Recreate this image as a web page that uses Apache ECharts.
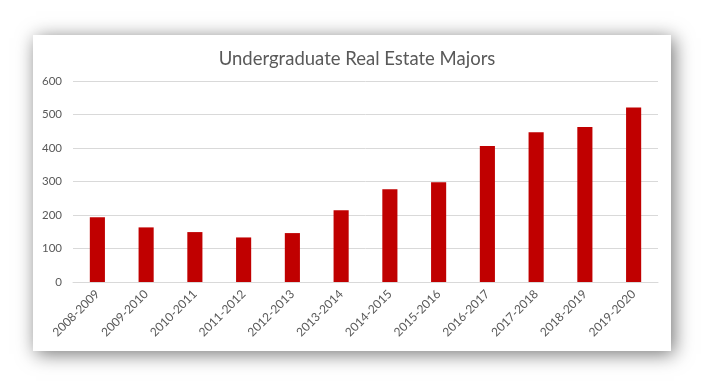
<!DOCTYPE html>
<html><head><meta charset="utf-8">
<script src="https://cdn.jsdelivr.net/npm/echarts@6/dist/echarts.min.js"></script>
<style>html,body{margin:0;padding:0;background:#fff}#c{width:708px;height:387px}</style>
</head><body><div id="c"></div>
<script>
const categories = ['2008-2009','2009-2010','2010-2011','2011-2012','2012-2013','2013-2014','2014-2015','2015-2016','2016-2017','2017-2018','2018-2019','2019-2020'];
const majors = [193, 163, 149, 133, 146, 214, 277, 298, 406, 447, 463, 521];
const titleText = 'Undergraduate Real Estate Majors';
const yTicks = [0, 100, 200, 300, 400, 500, 600];

const FONT = 'Lato';
const chart = echarts.init(document.getElementById('c'), null, {renderer: 'canvas'});
chart.setOption({
  animation: false,
  backgroundColor: '#ffffff',
  graphic: [{
    type: 'rect', z: -10, silent: true,
    shape: {x: 33, y: 35, width: 638, height: 316},
    style: {fill: '#ffffff', shadowBlur: 18, shadowColor: 'rgba(0,0,0,0.55)', shadowOffsetX: 3, shadowOffsetY: 3}
  }],
  title: {
    text: titleText, left: 352, top: 45, textAlign: 'center',
    textStyle: {fontFamily: FONT, fontSize: 18.5, fontWeight: 'normal', color: '#595959'}
  },
  grid: {left: 73, right: 50, top: 81, bottom: 105, containLabel: false},
  xAxis: {
    type: 'category', data: categories,
    axisLine: {lineStyle: {color: '#d9d9d9'}},
    axisTick: {show: false},
    axisLabel: {rotate: 45, interval: 0, margin: 10, color: '#595959', fontFamily: FONT, fontSize: 12}
  },
  yAxis: {
    type: 'value', min: yTicks[0], max: yTicks[yTicks.length - 1], interval: 100,
    axisLine: {show: false}, axisTick: {show: false},
    splitLine: {lineStyle: {color: '#d9d9d9'}},
    axisLabel: {color: '#595959', fontFamily: FONT, fontSize: 11.5, margin: 11}
  },
  series: [{
    type: 'bar', data: majors, barWidth: '31%',
    itemStyle: {color: '#c00000'}
  }]
});
</script></body></html>
